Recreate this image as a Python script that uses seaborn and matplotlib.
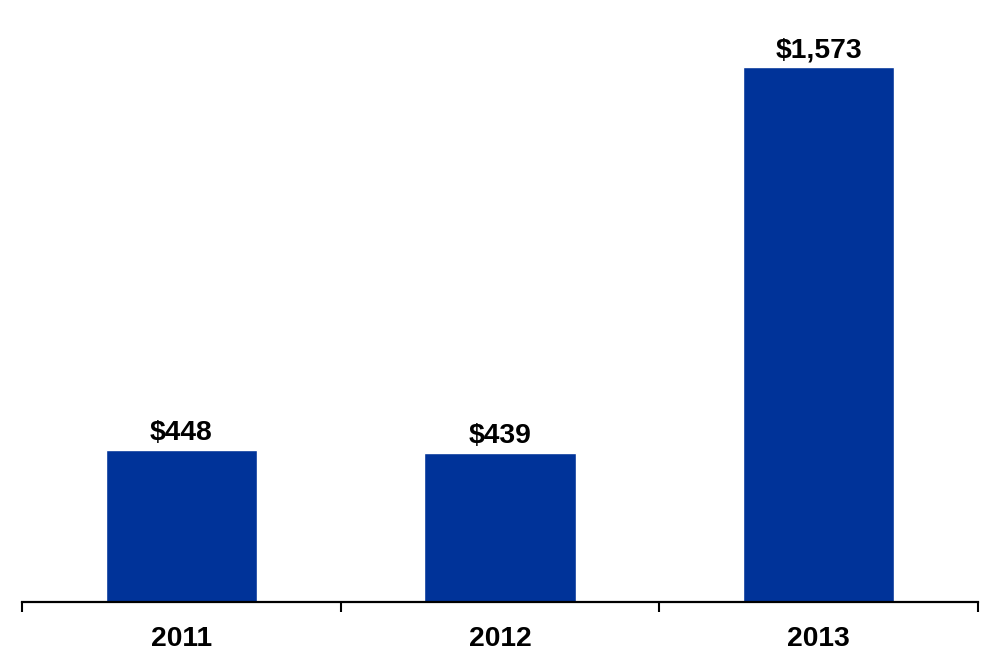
import matplotlib.pyplot as plt
import seaborn as sns
import pandas as pd
from matplotlib.ticker import FixedLocator

sns.set_theme(style="white")
plt.rcParams['font.family'] = ['Liberation Sans', 'DejaVu Sans']

# --- Data ---
years = ['2011', '2012', '2013']
values = [448, 439, 1573]
bar_labels = ['$448', '$439', '$1,573']

df = pd.DataFrame({'Year': years, 'Value': values})

fig = plt.figure(figsize=(10.01, 6.68), dpi=100)
ax = fig.add_axes([22 / 1001, (668 - 602) / 668, 956 / 1001, 602 / 668])

sns.barplot(data=df, x='Year', y='Value', ax=ax, color='#003399',
            saturation=1, width=0.475, errorbar=None)

ax.set_xlim(-0.5, 2.5)
ax.set_ylim(0, max(values) * 602 / 535)

for p, lab in zip(ax.patches, bar_labels):
    ax.annotate(lab, (p.get_x() + p.get_width() / 2, p.get_height()),
                xytext=(0, 2.5), textcoords='offset points',
                ha='center', va='bottom', fontsize=20.3, fontweight='bold',
                color='black')

# Axis styling
for side in ['top', 'right', 'left']:
    ax.spines[side].set_visible(False)
ax.spines['bottom'].set_color('black')
ax.spines['bottom'].set_linewidth(1.6)
ax.set_yticks([])
ax.set_xlabel('')
ax.set_ylabel('')

# boundary ticks (major) and centered labels (minor)
ax.xaxis.set_major_locator(FixedLocator([-0.5, 0.5, 1.5, 2.5]))
ax.set_xticklabels([])
ax.xaxis.set_minor_locator(FixedLocator([0, 1, 2]))
ax.set_xticklabels(years, minor=True, fontsize=20.3, fontweight='bold')
ax.tick_params(axis='x', which='major', direction='out', length=7,
               width=1.5, color='black', bottom=True)
ax.tick_params(axis='x', which='minor', length=0, pad=17.5, colors='black')

fig.savefig('out.png', dpi=100, facecolor='white')
